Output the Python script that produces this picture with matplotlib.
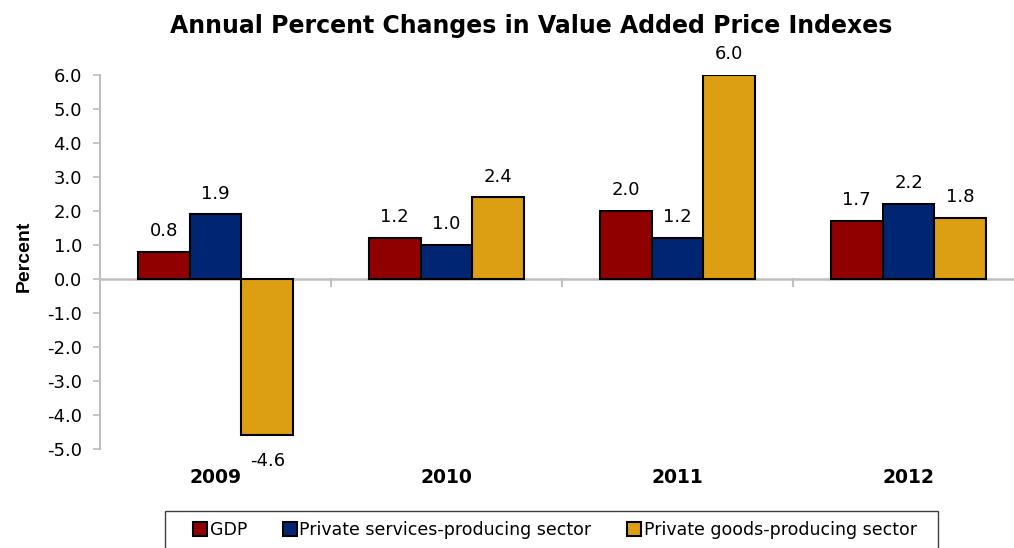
import matplotlib
matplotlib.use("Agg")
import matplotlib.pyplot as plt
import numpy as np
from matplotlib.transforms import blended_transform_factory
from matplotlib.patches import Rectangle

plt.rcParams['font.family'] = ['DejaVu Sans']

years = ["2009", "2010", "2011", "2012"]
series_names = ["GDP", "Private services-producing sector", "Private goods-producing sector"]
gdp = [0.8, 1.2, 2.0, 1.7]
services = [1.9, 1.0, 1.2, 2.2]
goods = [-4.6, 2.4, 6.0, 1.8]
colors = ["#900000", "#002673", "#DC9E13"]
yticks = [6.0, 5.0, 4.0, 3.0, 2.0, 1.0, 0.0, -1.0, -2.0, -3.0, -4.0, -5.0]

W, H = 1014, 548
fig = plt.figure(figsize=(W / 100, H / 100), dpi=100)
ax = fig.add_axes([100 / W, 99 / H, (W - 100) / W, (473 - 99) / H])

x = np.arange(len(years))
bw = 0.224
grey = "#BFBFBF"
allvals = [gdp, services, goods]
for i, (vals, c, name) in enumerate(zip(allvals, colors, series_names)):
    ax.bar(x + (i - 1) * bw, vals, bw, color=c, edgecolor="black",
           linewidth=1.5, label=name, zorder=3)
    for xi, v in zip(x + (i - 1) * bw, vals):
        if v >= 0:
            ax.annotate(f"{v:.1f}", (xi, v), xytext=(0, 8.5), textcoords="offset points",
                        ha="center", va="bottom", fontsize=13)
        else:
            ax.annotate(f"{v:.1f}", (xi, v), xytext=(0, -12), textcoords="offset points",
                        ha="center", va="top", fontsize=13)

ax.set_ylim(-5, 6)
ax.set_xlim(-0.5, -0.5 + (W - 100) / 231)
ax.set_yticks(yticks)
ax.set_yticklabels([f"{t:.1f}" for t in yticks], fontsize=13)
ax.tick_params(axis="y", direction="out", length=5, color=grey, width=1.2, pad=8)
ax.set_xticks([])

for s in ["top", "right", "bottom"]:
    ax.spines[s].set_visible(False)
ax.spines["left"].set_color(grey)
ax.spines["left"].set_linewidth(1.5)

# zero axis line with category boundary ticks
ax.axhline(0, color=grey, linewidth=1.8, zorder=2)
for b in [0.5, 1.5, 2.5]:
    ax.plot([b, b], [0, -0.2], color=grey, linewidth=1.5, zorder=2, clip_on=False)

trans = blended_transform_factory(ax.transData, ax.transAxes)
for xi, yr in zip(x, years):
    ax.text(xi, -0.076, yr, transform=trans, ha="center", va="center",
            fontsize=13.5, fontweight="bold")

ax.set_ylabel("Percent", fontsize=14, fontweight="bold", family=["Liberation Sans"])
ax.yaxis.set_label_coords(-67 / (W - 100), 0.515)

fig.text(531 / W, 1 - 33 / H, "Annual Percent Changes in Value Added Price Indexes",
         ha="center", va="baseline", fontsize=17, fontweight="bold")

# legend frame (extends below figure edge as in the reference)
fig.patches.append(Rectangle((165 / W, -20 / H), (938 - 165) / W, (548 - 511 + 20) / H,
                             transform=fig.transFigure, fill=False, edgecolor="#404040",
                             linewidth=1.0))
leg = fig.legend(loc="center", bbox_to_anchor=(555 / W, 1 - 530 / H), ncol=3, fontsize=12.5,
                 frameon=False, handlelength=0.8, handleheight=0.8, handletextpad=0.15,
                 columnspacing=2.05, borderpad=0, borderaxespad=0)

fig.savefig("out.png", dpi=100)
